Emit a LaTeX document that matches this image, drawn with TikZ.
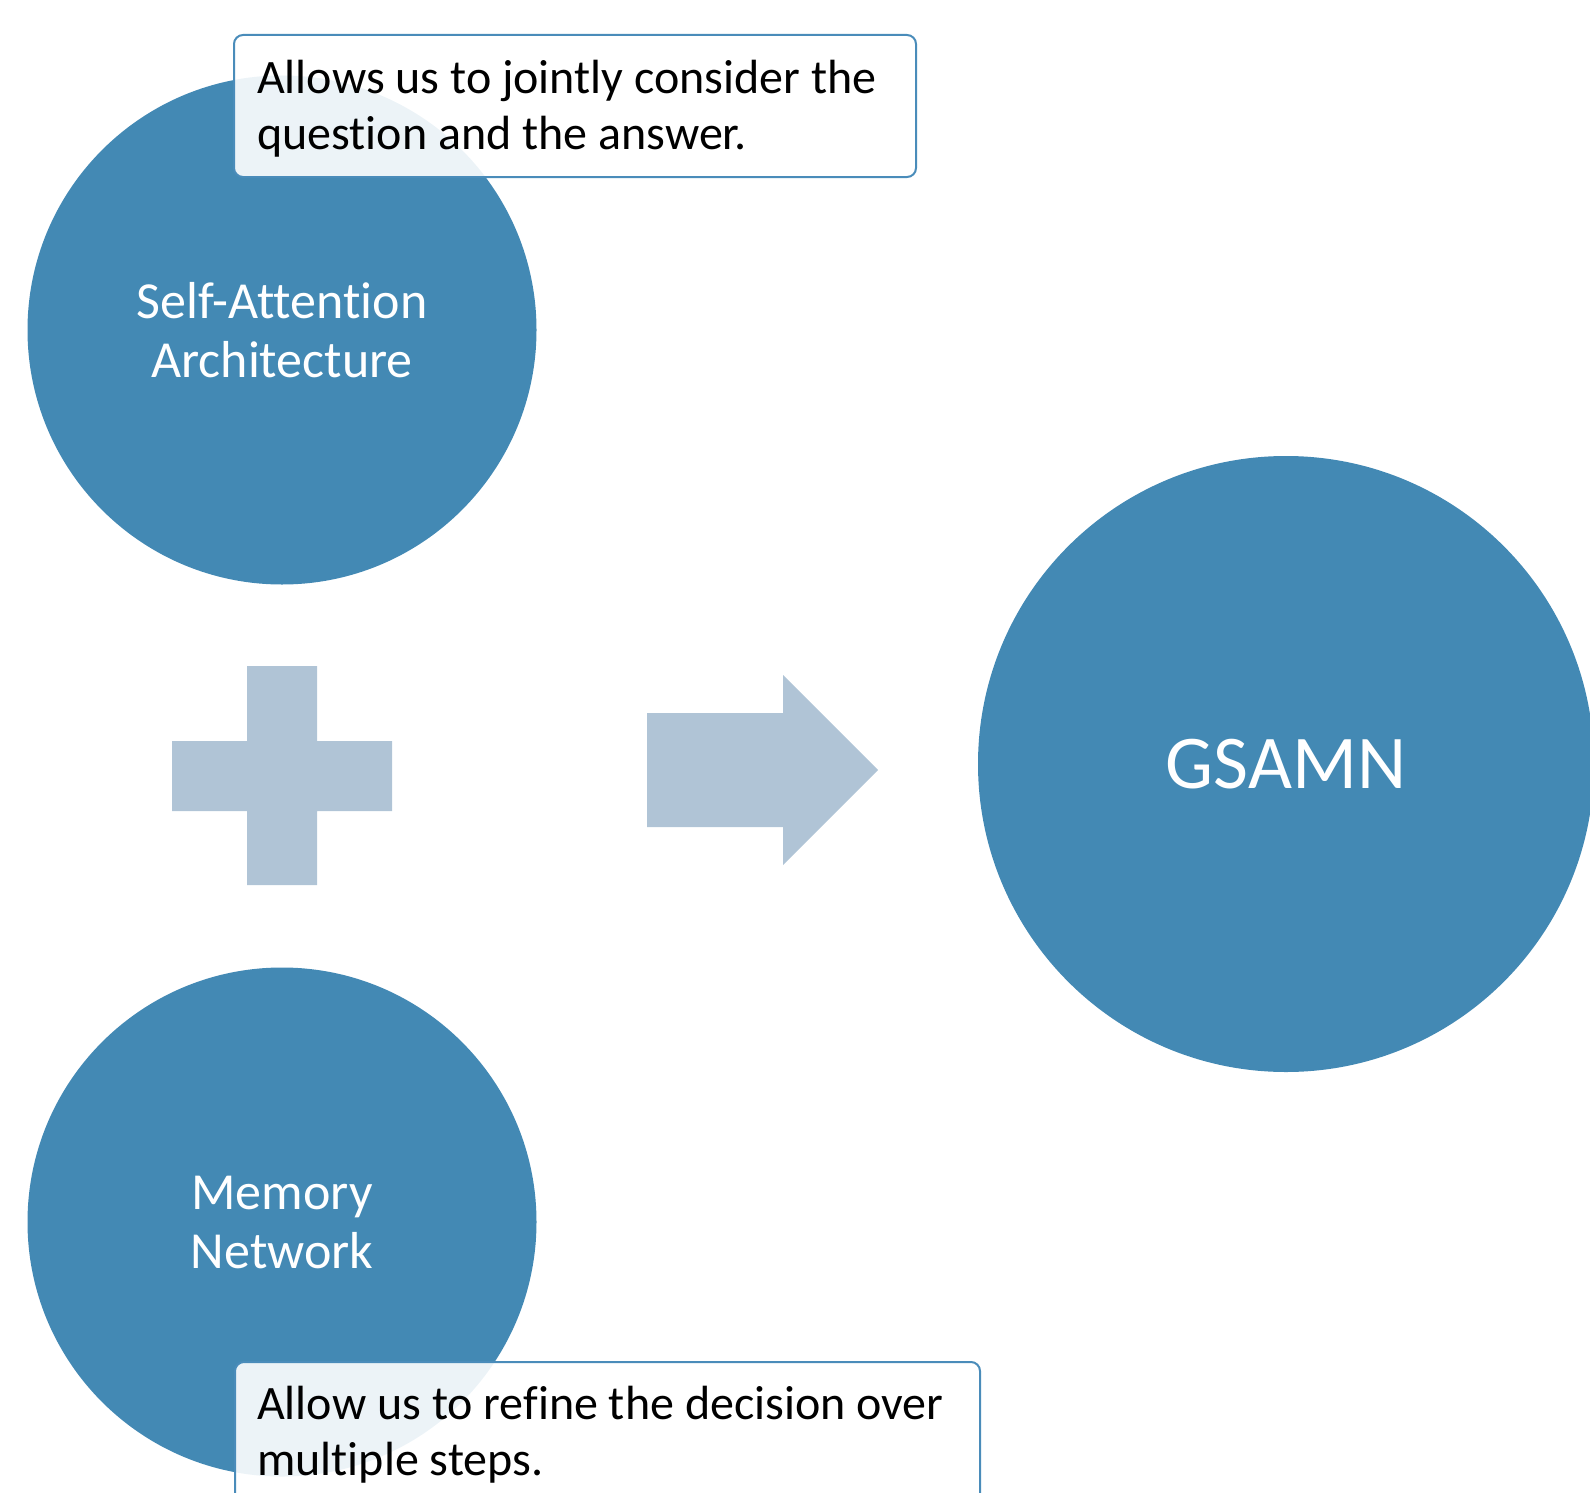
\documentclass[tikz,border=0pt]{standalone}
\usepackage{fontspec}
\setmainfont{Carlito}[Ligatures=NoCommon]
\usepackage{xcolor}
\definecolor{accent}{RGB}{67,137,180}
\definecolor{accent2}{RGB}{176,196,214}
\definecolor{rim}{RGB}{74,140,186}
\usetikzlibrary{positioning}
\tikzset{
  bubble/.style={circle,fill=accent,text=white,inner sep=0pt,align=center,%
    font=\fontsize{52}{59}\selectfont},
  note/.style={draw=rim,line width=2pt,rounded corners=9pt,fill=white,%
    fill opacity=0.9,anchor=north west,inner sep=0pt},
  notetext/.style={font=\fontsize{48}{56}\selectfont,text=black,align=left,inner sep=0pt},
  sign/.style={fill=accent2},
}

\begin{document}
\begin{tikzpicture}[x=1pt,y=-1pt]
\useasboundingbox (0,0) rectangle (1590,1493);
\node[bubble,minimum size=509] (sa) at (282,330) {Self-Attention\\Architecture};
\node[bubble,minimum size=509] (mn) at (282,1222) {Memory\\Network};
\node[bubble,minimum size=616,font=\fontsize{76}{80}\selectfont] (gs) at (1286,764) {GSAMN};
\fill[sign] (247,666) -- (317,666) -- (317,741) -- (392,741) -- (392,811) -- (317,811)
  -- (317,885) -- (247,885) -- (247,811) -- (172,811) -- (172,741) -- (247,741) -- cycle;
\fill[sign] (647,713) -- (783,713) -- (783,675) -- (878,770) -- (783,865) -- (783,827)
  -- (647,827) -- cycle;
\node[note,minimum width=682,minimum height=142] (n1) at (233,34) {};
\node[notetext,below right=26pt and 24pt of n1.north west] (t1)
  {Allows us to jointly consider the\\question and the answer.};
\node[note,minimum width=745,minimum height=180] (n2) at (234,1361) {};
\node[notetext,below right=25pt and 23pt of n2.north west] (t2)
  {Allow us to refine the decision over\\multiple steps.};
\end{tikzpicture}
\end{document}
